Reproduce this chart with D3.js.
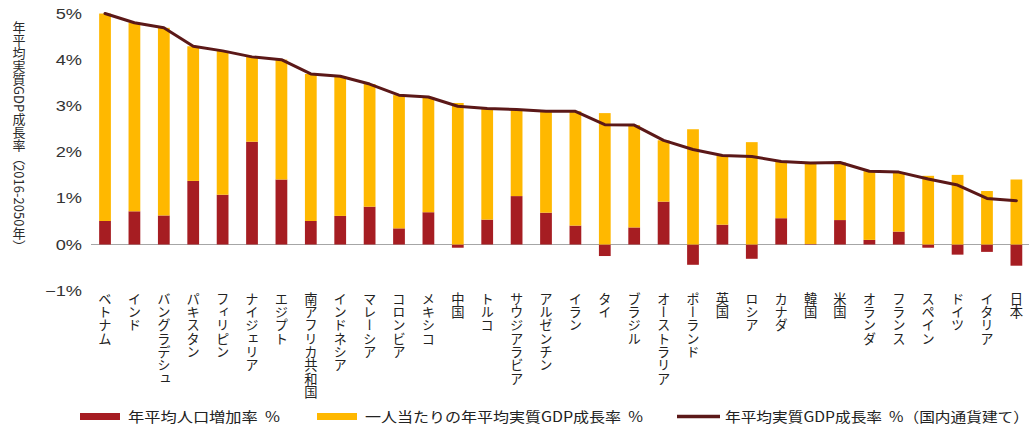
<!DOCTYPE html>
<html><head><meta charset="utf-8">
<script src="https://cdn.jsdelivr.net/npm/d3@7"></script>
<style>
html,body{margin:0;padding:0;background:#fff;}
svg{display:block;}
</style></head>
<body>
<svg id="chart" width="1029" height="427"></svg>
<script>
const countries = ["ベトナム","インド","バングラデシュ","パキスタン","フィリピン","ナイジェリア","エジプト","南アフリカ共和国","インドネシア","マレーシア","コロンビア","メキシコ","中国","トルコ","サウジアラビア","アルゼンチン","イラン","タイ","ブラジル","オーストラリア","ポーランド","英国","ロシア","カナダ","韓国","米国","オランダ","フランス","スペイン","ドイツ","イタリア","日本"];
const popGrowth = [0.51,0.72,0.63,1.38,1.08,2.23,1.41,0.51,0.62,0.82,0.35,0.70,-0.07,0.54,1.05,0.69,0.41,-0.25,0.37,0.93,-0.44,0.43,-0.31,0.57,0.01,0.53,0.10,0.28,-0.07,-0.22,-0.16,-0.46];
const perCapitaGrowth = [4.50,4.09,4.07,2.92,3.12,1.84,2.60,3.19,3.03,2.66,2.89,2.50,3.07,2.41,1.88,2.20,2.48,2.85,2.22,1.33,2.50,1.50,2.22,1.23,1.76,1.25,1.49,1.29,1.49,1.51,1.16,1.41];
const gdpGrowth = [5.01,4.81,4.70,4.30,4.20,4.07,4.01,3.70,3.65,3.48,3.24,3.20,3.00,2.95,2.93,2.89,2.89,2.60,2.59,2.26,2.06,1.93,1.91,1.80,1.77,1.78,1.59,1.57,1.42,1.29,1.00,0.95];
const yTicks = [-1,0,1,2,3,4,5];
const yTitle = "年平均実質GDP成長率（2016-2050年）";
const legendLabels = ["年平均人口増加率\u00a0\u00a0%","一人当たりの年平均実質GDP成長率\u00a0\u00a0%","年平均実質GDP成長率\u00a0\u00a0%（国内通貨建て）"];

const RED = "#a61d22", YEL = "#ffb800", LINE = "#5b1818";
const svg = d3.select("#chart");
const jp = "'Noto Sans CJK JP','Noto Sans',sans-serif";

const x = d3.scaleBand().domain(countries).range([81.5, 1039.9]).padding(0.6);
const y = d3.scaleLinear().domain([-1, 5]).range([290.6, 14]);

// y tick labels
svg.append("g").selectAll("text").data(yTicks).join("text")
  .attr("transform", d => `translate(82,${y(d) + 5}) scale(1.3,1)`)
  .attr("text-anchor", "end")
  .attr("font-family", "'Liberation Sans',Arial,sans-serif")
  .attr("font-size", 14)
  .attr("fill", "#333")
  .text(d => (d < 0 ? "\u2212" + Math.abs(d) : d) + "%");

// y title (vertical)
svg.append("text")
  .attr("x", 19).attr("y", 21)
  .style("writing-mode", "vertical-rl")
  .attr("font-family", jp)
  .attr("font-size", 13)
  .attr("fill", "#2a2a2a")
  .text(yTitle);

// baseline (behind bars)
svg.append("line").attr("x1", 91).attr("x2", 1029)
  .attr("y1", y(0)).attr("y2", y(0))
  .attr("stroke", "#a6a6a6").attr("stroke-width", 1.2);

// bars
const g = svg.append("g");
countries.forEach((c, i) => {
  const p = popGrowth[i], pc = perCapitaGrowth[i];
  g.append("rect")
    .attr("x", x(c)).attr("width", x.bandwidth())
    .attr("y", y(Math.max(p, 0))).attr("height", Math.abs(y(p) - y(0)))
    .attr("fill", RED);
  const base = Math.max(p, 0);
  g.append("rect")
    .attr("x", x(c)).attr("width", x.bandwidth())
    .attr("y", y(base + pc)).attr("height", y(base) - y(base + pc))
    .attr("fill", YEL);
});

// line
const line = d3.line().x((d, i) => x(countries[i]) + x.bandwidth() / 2).y(d => y(d));
svg.append("path").datum(gdpGrowth).attr("d", line)
  .attr("fill", "none").attr("stroke", LINE).attr("stroke-width", 3)
  .attr("stroke-linejoin", "round").attr("stroke-linecap", "round");

// x labels (vertical)
svg.append("g").selectAll("text").data(countries).join("text")
  .attr("x", d => x(d) + x.bandwidth() / 2)
  .attr("y", 292)
  .style("writing-mode", "vertical-rl")
  .attr("font-family", jp)
  .attr("font-size", 13.3)
  .attr("fill", "#222")
  .text(d => d);

// legend
const lg = svg.append("g").attr("font-family", jp).attr("font-size", 14).attr("fill", "#222");
const lx = [80, 317, 677];
const tx = [128, 365, 725];
const tw = [152, 278, 304];
lg.append("rect").attr("x", lx[0]).attr("y", 413).attr("width", 40).attr("height", 7).attr("fill", RED);
lg.append("rect").attr("x", lx[1]).attr("y", 413).attr("width", 40).attr("height", 7).attr("fill", YEL);
lg.append("line").attr("x1", lx[2]).attr("x2", lx[2] + 43).attr("y1", 416.5).attr("y2", 416.5)
  .attr("stroke", LINE).attr("stroke-width", 3.5);
legendLabels.forEach((t, i) => {
  lg.append("text").attr("x", tx[i]).attr("y", 421.5)
    .attr("textLength", tw[i]).attr("lengthAdjust", "spacingAndGlyphs")
    .text(t);
});
</script>
</body></html>
